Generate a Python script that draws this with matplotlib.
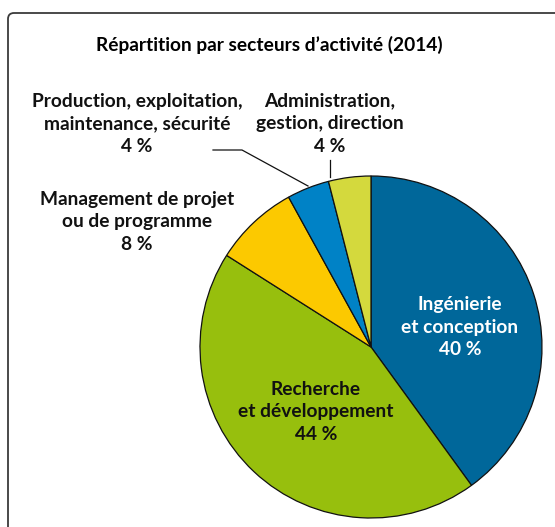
import matplotlib
matplotlib.use("Agg")
import matplotlib.pyplot as plt
from matplotlib.patches import FancyBboxPatch

title = "Répartition par secteurs d’activité (2014)"
categories = ["Ingénierie\net conception", "Recherche\net développement",
              "Management de projet\nou de programme",
              "Production, exploitation,\nmaintenance, sécurité",
              "Administration,\ngestion, direction"]
values = [40, 44, 8, 4, 4]
colors = ["#00679a", "#97bf0d", "#fcc900", "#0082c6", "#d4d93d"]

W, H = 555, 527
fig = plt.figure(figsize=(W / 100, H / 100), dpi=100)
ax = fig.add_axes([0, 0, 1, 1])
ax.set_xlim(0, W)
ax.set_ylim(0, H)
ax.axis("off")

def Y(y):
    return H - y

# frame
frame = FancyBboxPatch((8, Y(560)), 570, 547, boxstyle="round,pad=0,rounding_size=6",
                       fill=False, edgecolor="#3a3a3a", linewidth=1.3, clip_on=True)
ax.add_patch(frame)

cx, cy, r = 371, Y(347), 171
ax.pie(values, colors=colors, startangle=90, counterclock=False,
       center=(cx, cy), radius=r, frame=True,
       wedgeprops=dict(edgecolor="#111111", linewidth=0.9))
ax.set_xlim(0, W)
ax.set_ylim(0, H)
ax.set_aspect("equal")
ax.axis("off")

font = dict(family=["Lato", "DejaVu Sans"], fontweight="bold", fontsize=13.8,
            ha="center", va="center", linespacing=1.42)

ax.text(269, Y(45), title, **font)
labels_pos = [(460, 327, "white"), (316, 412, "#111111"), (137, 222, "#111111"),
              (137, 124, "#111111"), (330, 124, "#111111")]
for (lx, ly, c), cat, v in zip(labels_pos, categories, values):
    ax.text(lx, Y(ly), f"{cat}\n{v} %", color=c, **font)

# leader lines
ax.plot([213, 242, 308], [Y(150), Y(150), Y(186)], color="#111111", lw=0.9)
ax.plot([330, 330], [Y(160), Y(177)], color="#111111", lw=0.9)

fig.savefig("out.png", dpi=100)
